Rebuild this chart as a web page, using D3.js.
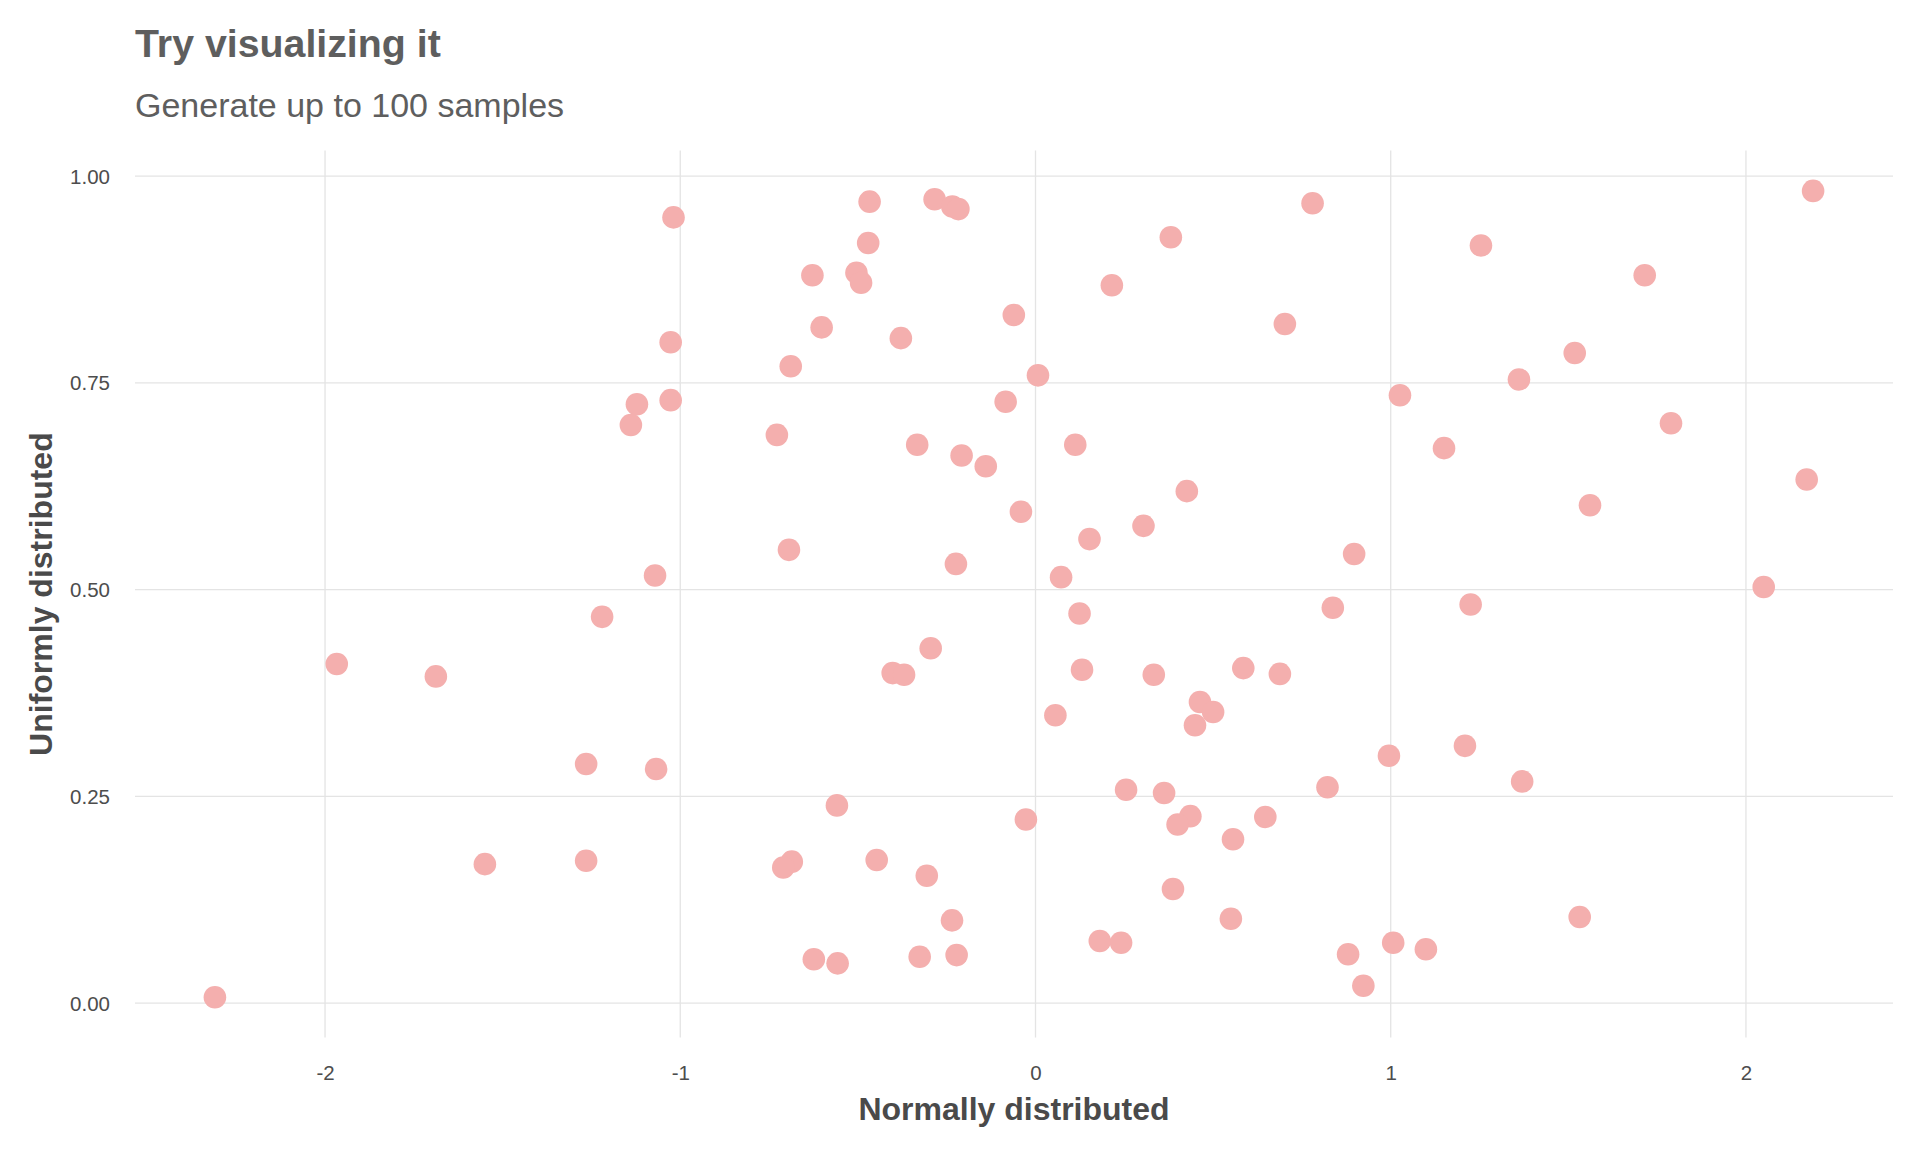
<!DOCTYPE html>
<html>
<head>
<meta charset="utf-8">
<script src="https://cdn.jsdelivr.net/npm/d3@7"></script>
<style>
  html, body { margin: 0; padding: 0; background: #ffffff; }
  svg { display: block; font-family: "Liberation Sans", Arial, Helvetica, sans-serif; }
</style>
</head>
<body>
<svg id="chart" width="1920" height="1152"></svg>
<script>
// ---- Data ----
const normalValues = [
  -1.019, -1.027, -1.027, -1.122, -1.139, -1.071, -0.467, -0.284, -0.234, -0.217,
   0.780, -0.471,  0.381, -0.628, -0.504, -0.491,  0.215, -0.602, -0.061,  0.702,
  -0.379, -0.689,  0.007, -0.084, -0.728, -0.333,  0.112, -0.208, -0.140,  0.426,
  -0.041,  0.304,  0.152, -0.694, -0.224,  0.072,  2.189,  1.254,  1.715,  1.518,
   1.361,  1.026,  1.789,  1.150,  2.171,  1.561,  0.897,  2.050, -1.220, -1.967,
  -1.688, -1.265, -1.068, -1.550, -1.265, -2.310,  0.124, -0.295, -0.402, -0.370,
   0.131,  0.333,  0.585,  0.688,  0.463,  0.500,  0.449,  0.056,  0.255,  0.362,
   0.822, -0.559, -0.027,  0.436,  0.400,  0.647,  0.556, -0.686, -0.710, -0.447,
  -0.306,  0.387, -0.235,  0.550,  0.181,  0.241, -0.624, -0.557, -0.326, -0.222,
   0.837,  1.225,  0.995,  1.209,  1.370,  1.532,  0.880,  1.007,  1.099,  0.923
];
const uniformValues = [
  0.950, 0.799, 0.729, 0.724, 0.699, 0.517, 0.969, 0.972, 0.963, 0.960,
  0.967, 0.919, 0.926, 0.880, 0.883, 0.871, 0.868, 0.817, 0.832, 0.821,
  0.804, 0.770, 0.759, 0.727, 0.687, 0.675, 0.675, 0.662, 0.649, 0.619,
  0.594, 0.577, 0.561, 0.548, 0.531, 0.515, 0.982, 0.916, 0.880, 0.786,
  0.754, 0.735, 0.701, 0.671, 0.633, 0.602, 0.543, 0.503, 0.467, 0.410,
  0.395, 0.289, 0.283, 0.168, 0.172, 0.007, 0.471, 0.429, 0.399, 0.397,
  0.403, 0.397, 0.405, 0.398, 0.364, 0.352, 0.336, 0.348, 0.258, 0.254,
  0.261, 0.239, 0.222, 0.226, 0.216, 0.225, 0.198, 0.171, 0.164, 0.173,
  0.154, 0.138, 0.100, 0.102, 0.075, 0.073, 0.053, 0.048, 0.056, 0.058,
  0.478, 0.482, 0.299, 0.311, 0.268, 0.104, 0.059, 0.073, 0.065, 0.021
];
const xTickValues = [-2, -1, 0, 1, 2];
const xTickLabels = ["-2", "-1", "0", "1", "2"];
const yTickValues = [0, 0.25, 0.5, 0.75, 1];
const yTickLabels = ["0.00", "0.25", "0.50", "0.75", "1.00"];
const titleText = "Try visualizing it";
const subtitleText = "Generate up to 100 samples";
const xAxisTitle = "Normally distributed";
const yAxisTitle = "Uniformly distributed";

// ---- Layout ----
const panel = { left: 135, right: 1893, top: 150.6, bottom: 1037.6 };
const svg = d3.select("#chart");

function padded(values) {
  const [a, b] = d3.extent(values);
  const pad = (b - a) * 0.05;
  return [a - pad, b + pad];
}

const x = d3.scaleLinear().domain(padded(normalValues)).range([panel.left, panel.right]);
const y = d3.scaleLinear().domain(padded(uniformValues)).range([panel.bottom, panel.top]);

// Gridlines
const gridColor = "#e4e4e4";
svg.append("g").selectAll("line").data(yTickValues).join("line")
  .attr("x1", panel.left).attr("x2", panel.right)
  .attr("y1", d => y(d)).attr("y2", d => y(d))
  .attr("stroke", gridColor).attr("stroke-width", 1.3);
svg.append("g").selectAll("line").data(xTickValues).join("line")
  .attr("y1", panel.top).attr("y2", panel.bottom)
  .attr("x1", d => x(d)).attr("x2", d => x(d))
  .attr("stroke", gridColor).attr("stroke-width", 1.3);

// Axes (labels only, like theme_minimal)
const xAxis = d3.axisBottom(x).tickValues(xTickValues)
  .tickFormat((d, i) => xTickLabels[i]).tickSize(0).tickPadding(0);
const gx = svg.append("g").attr("transform", `translate(0,${panel.bottom})`).call(xAxis);
gx.select(".domain").remove();
gx.selectAll("text").attr("dy", null).attr("y", 42)
  .attr("font-size", 20.5).attr("fill", "#4d4d4d").attr("font-family", "Liberation Sans, Arial, sans-serif");

const yAxis = d3.axisLeft(y).tickValues(yTickValues)
  .tickFormat((d, i) => yTickLabels[i]).tickSize(0).tickPadding(0);
const gy = svg.append("g").attr("transform", `translate(${panel.left},0)`).call(yAxis);
gy.select(".domain").remove();
gy.selectAll("text").attr("x", -25).attr("dy", "0.35em")
  .attr("font-size", 20.5).attr("fill", "#4d4d4d").attr("font-family", "Liberation Sans, Arial, sans-serif");

// Points
const pts = normalValues.map((v, i) => ({ x: v, y: uniformValues[i] }));
svg.append("g").selectAll("circle").data(pts).join("circle")
  .attr("cx", d => x(d.x)).attr("cy", d => y(d.y))
  .attr("r", 11.3).attr("fill", "#f4afae");

// Titles
svg.append("text").attr("x", 135).attr("y", 57)
  .attr("font-size", 39.3).attr("font-weight", "bold").attr("fill", "#5e5e5e")
  .text(titleText);
svg.append("text").attr("x", 135).attr("y", 117)
  .attr("font-size", 34).attr("fill", "#5e5e5e")
  .text(subtitleText);

svg.append("text")
  .attr("x", (panel.left + panel.right) / 2).attr("y", 1120)
  .attr("text-anchor", "middle").attr("font-size", 32).attr("font-weight", "bold")
  .attr("fill", "#4a4a4a").text(xAxisTitle);

svg.append("text")
  .attr("transform", `translate(52,${(panel.top + panel.bottom) / 2}) rotate(-90)`)
  .attr("text-anchor", "middle").attr("font-size", 32).attr("font-weight", "bold")
  .attr("fill", "#4a4a4a").text(yAxisTitle);
</script>
</body>
</html>
